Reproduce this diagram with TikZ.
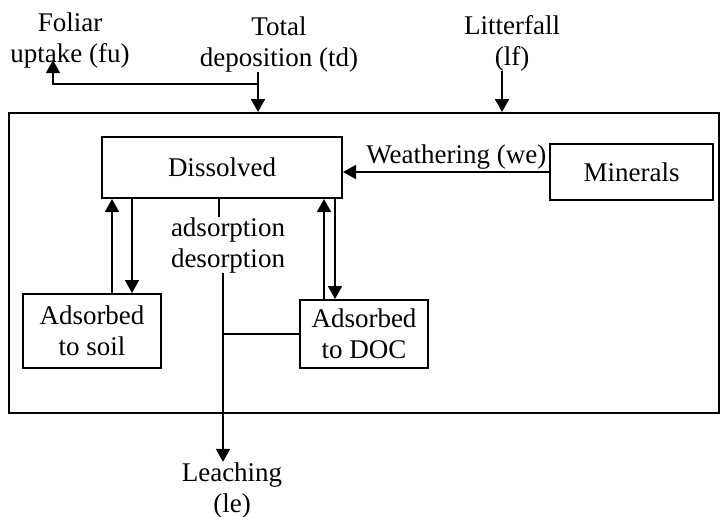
\documentclass[tikz,border=0pt]{standalone}
\usepackage{fontspec}
\setmainfont{Liberation Serif}
\usetikzlibrary{arrows.meta, calc}
\tikzset{box/.style = {draw, line width=1pt, inner sep=0pt, align=center}}
\tikzset{flow/.style = {-{Triangle[length=6.5pt, width=7pt]}, line width=0.9pt}}
\tikzset{lbl/.style = {align=center, inner sep=0pt}}

\begin{document}
\begin{tikzpicture}[x=0.5pt, y=-0.5pt, font=\fontsize{13.5}{15.5}\selectfont]
        \useasboundingbox (0,0) rectangle (726,516);
        \node[box, minimum width=355pt, minimum height=150pt] (soil) at (364,263) {};
        \node[box, minimum width=120pt, minimum height=30.5pt] (diss) at (222,167.5) {Dissolved};
        \node[box, minimum width=81.5pt, minimum height=28pt] (min) at (631.5,172) {Minerals};
        \node[box, minimum width=69pt, minimum height=37pt] (sorb) at (92,331) {Adsorbed\\to soil};
        \node[box, minimum width=64pt, minimum height=34pt] (doc) at (364,334) {Adsorbed\\to DOC};
        \node[lbl] (fu) at (70,40) {Foliar\\uptake (fu)};
        \node[lbl] (td) at (279,44) {Total\\deposition (td)};
        \node[lbl] (lf) at (512,43) {Litterfall\\(lf)};
        \node[lbl] (ads) at (228,245) {adsorption\\desorption};
        \node[lbl] (le) at (232,490) {Leaching\\(le)};
        \coordinate (tdfoot) at ($(td.south)+(-21,0)$);
        \coordinate (tdfork) at ($(tdfoot)+(0,12)$);
        \coordinate (futip) at ($(fu.south)+(-17,-8)$);
        \coordinate (lffoot) at ($(lf.south)+(-10,0)$);
        \coordinate (lefoot) at ($(ads.south)+(-5,0)$);
        \draw[flow] (tdfoot) -- (tdfoot |- soil.north);
        \draw[flow] (tdfork) -| (futip);
        \draw[flow] (lffoot) -- (lffoot |- soil.north);
        \draw[flow] (min.west) -- (diss.east |- min.west) node[pos=0.45, above, inner sep=1pt] {Weathering (we)};
        \draw[flow] ([xshift=10pt]sorb.north) -- ([xshift=10pt]sorb.north |- diss.south);
        \draw[flow] ([xshift=20pt]sorb.north |- diss.south) -- ([xshift=20pt]sorb.north);
        \draw[flow] ([xshift=-20pt]doc.north) -- ([xshift=-20pt]doc.north |- diss.south);
        \draw[flow] ([xshift=-14.5pt]doc.north |- diss.south) -- ([xshift=-14.5pt]doc.north);
        \draw[line width=0.8pt] ([xshift=-4.5pt]ads.north |- diss.south) -- ([xshift=-4.5pt]ads.north);
        \draw[flow] (lefoot) -- (lefoot |- le.north);
        \draw[line width=0.8pt] (lefoot |- doc.west) -- (doc.west);
    \end{tikzpicture}
\end{document}
